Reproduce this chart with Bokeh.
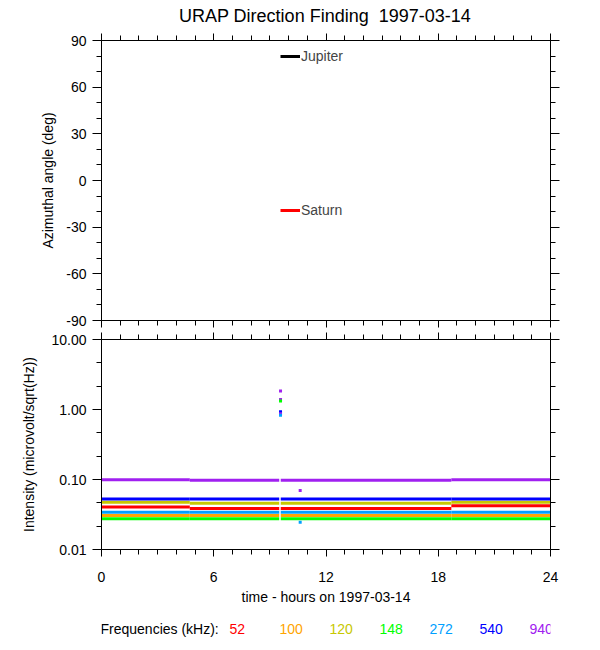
from bokeh.plotting import figure
from bokeh.models import (Range1d, LinearAxis, LogAxis, FixedTicker, PrintfTickFormatter,
                          CustomJSTickFormatter, Label, Legend, LegendItem, ColumnDataSource)
from bokeh.layouts import column
from bokeh.embed import file_html
from bokeh.resources import INLINE

FONT = "Liberation Sans"

# ---------------- data ----------------
title_text = "URAP Direction Finding\u00a0 1997-03-14"
x_title = "time - hours on 1997-03-14"
top_y_title = "Azimuthal angle (deg)"
bot_y_title = "Intensity (microvolt/sqrt(Hz))"
key_title = "Frequencies (kHz):"

hour_ticks = [0, 6, 12, 18, 24]
hour_minor = list(range(0, 25))
angle_ticks = [-90, -60, -30, 0, 30, 60, 90]
angle_minor = list(range(-90, 91, 10))
intensity_ticks = [0.01, 0.1, 1.0, 10.0]
intensity_minor = [0.0215, 0.0464, 0.215, 0.464, 2.15, 4.64]

planets = ["Jupiter", "Saturn"]

freqs_khz = [52, 100, 120, 148, 272, 540, 940]
freq_colors = {52: "#ff0000", 100: "#ffa500", 120: "#c8c800", 148: "#00ff00",
               272: "#00a0ff", 540: "#0000ff", 940: "#a020f0"}

# piecewise-constant intensity bands (hours)
seg_start_h = [0.0, 4.72, 9.58, 18.70]
seg_end_h = [4.72, 9.50, 18.70, 24.0]
level_52 = [0.0406, 0.0386, 0.0386, 0.0420]
level_100 = [0.0306, 0.0306, 0.0306, 0.0306]
level_120 = [0.0474, 0.0456, 0.0456, 0.0474]
level_148 = [0.0274, 0.0274, 0.0274, 0.0274]
level_272 = [0.0341, 0.0341, 0.0341, 0.0341]
level_540 = [0.0528, 0.0528, 0.0528, 0.0528]
level_940 = [0.0990, 0.0975, 0.0975, 0.0990]
levels = {52: level_52, 100: level_100, 120: level_120, 148: level_148,
          272: level_272, 540: level_540, 940: level_940}

# isolated points
spike_hours = [9.57, 9.57, 9.57, 9.57, 9.57, 9.57, 10.62, 10.62]
spike_freqs = [940, 940, 148, 540, 940, 272, 940, 272]
spike_values = [1.84, 1.39, 1.32, 0.93, 0.87, 0.83, 0.0695, 0.0246]

# ---------------- layout ----------------
W = 600
ML, MR = 101, 50
FW = W - ML - MR


def blank():
    return CustomJSTickFormatter(code="return ''")


def style_axis(ax, labels=True, major_out=7, minor_out=4):
    ax.axis_line_color = "black"
    ax.axis_line_width = 1
    ax.major_tick_line_color = "black"
    ax.minor_tick_line_color = "black"
    ax.major_tick_in = 0
    ax.minor_tick_in = 0
    ax.major_tick_out = major_out
    ax.minor_tick_out = minor_out
    ax.major_label_text_font = FONT
    ax.major_label_text_font_size = "14px"
    ax.major_label_text_color = "black"
    ax.axis_label_text_font = FONT
    ax.axis_label_text_font_size = "14px"
    ax.axis_label_text_font_style = "normal"
    ax.axis_label_text_color = "black"
    if not labels:
        ax.formatter = blank()
        ax.major_label_text_font_size = "1px"
        ax.major_label_standoff = 0


def strip(height):
    s = figure(width=W, height=height, x_range=Range1d(0, 1), y_range=Range1d(0, 1),
               output_backend="svg", toolbar_location=None,
               min_border_left=ML, min_border_right=MR, min_border_top=0, min_border_bottom=0,
               x_axis_location=None, y_axis_location=None)
    s.outline_line_color = None
    s.xgrid.visible = False
    s.ygrid.visible = False
    s.background_fill_color = "white"
    s.border_fill_color = "white"
    return s


# title strip
HH = 30
head = strip(HH)
head.add_layout(Label(x=FW / 2 - 1, y=HH / 2, x_units="screen", y_units="screen", text=title_text,
                      text_align="center", text_baseline="middle", text_font=FONT,
                      text_font_size="18px", text_color="black"))

# top panel
TH = 300
top = figure(width=W, height=TH, x_range=Range1d(0, 24), y_range=Range1d(-90, 90),
             output_backend="svg", toolbar_location=None,
             min_border_left=ML, min_border_right=MR, min_border_top=10, min_border_bottom=10,
             x_axis_location=None, y_axis_location=None)
top.outline_line_color = None
top.xgrid.visible = False
top.ygrid.visible = False
top.background_fill_color = "white"
top.border_fill_color = "white"

ax = LinearAxis(ticker=FixedTicker(ticks=angle_ticks, minor_ticks=angle_minor),
                formatter=PrintfTickFormatter(format="%d"), axis_label=top_y_title)
style_axis(ax, True, 9, 5)
ax.major_label_standoff = 6
ax.axis_label_standoff = 7
top.add_layout(ax, "left")
ax = LinearAxis(ticker=FixedTicker(ticks=angle_ticks, minor_ticks=angle_minor))
style_axis(ax, False, 9, 5)
top.add_layout(ax, "right")
for side in ("above", "below"):
    ax = LinearAxis(ticker=FixedTicker(ticks=hour_ticks, minor_ticks=hour_minor))
    style_axis(ax, False, 7, 5)
    top.add_layout(ax, side)

planet_colors = {"Jupiter": "black", "Saturn": "#ff0000"}
planet_pos = {"Jupiter": (179, 256), "Saturn": (179, 102)}
for name in planets:
    r = top.line(x=[0], y=[0], line_color=planet_colors[name], line_width=3)
    leg = Legend(items=[LegendItem(label=name, renderers=[r])], location=planet_pos[name],
                 padding=0, margin=0, border_line_color=None, background_fill_alpha=0,
                 glyph_width=20, glyph_height=16, label_height=16, label_standoff=1,
                 label_text_font=FONT, label_text_font_size="14px")
    top.add_layout(leg)

# bottom panel
BH = 283
bot = figure(width=W, height=BH, x_range=Range1d(0, 24), y_range=Range1d(0.01, 10),
             y_axis_type="log", output_backend="svg", toolbar_location=None,
             min_border_left=ML, min_border_right=MR, min_border_top=9, min_border_bottom=64,
             x_axis_location=None, y_axis_location=None)
bot.outline_line_color = None
bot.xgrid.visible = False
bot.ygrid.visible = False
bot.background_fill_color = "white"
bot.border_fill_color = "white"

ax = LogAxis(ticker=FixedTicker(ticks=intensity_ticks, minor_ticks=intensity_minor),
             formatter=PrintfTickFormatter(format="%.2f"), axis_label=bot_y_title)
style_axis(ax, True, 9, 5)
ax.major_label_standoff = 6
ax.axis_label_standoff = 11
bot.add_layout(ax, "left")
ax = LogAxis(ticker=FixedTicker(ticks=intensity_ticks, minor_ticks=intensity_minor))
style_axis(ax, False, 9, 5)
bot.add_layout(ax, "right")
ax = LinearAxis(ticker=FixedTicker(ticks=hour_ticks, minor_ticks=hour_minor))
style_axis(ax, False, 7, 5)
bot.add_layout(ax, "above")
ax = LinearAxis(ticker=FixedTicker(ticks=hour_ticks, minor_ticks=hour_minor),
                formatter=PrintfTickFormatter(format="%d"), axis_label=x_title)
style_axis(ax, True, 7, 5)
ax.major_label_standoff = 15
ax.axis_label_standoff = 4
bot.add_layout(ax, "below")

for f in freqs_khz:
    src = ColumnDataSource(dict(x0=seg_start_h, x1=seg_end_h, y=levels[f]))
    bot.segment(x0="x0", x1="x1", y0="y", y1="y", source=src,
                line_color=freq_colors[f], line_width=3, line_cap="butt")

bot.scatter(x=spike_hours, y=spike_values, marker="square", size=3,
            color=[freq_colors[f] for f in spike_freqs], line_width=0)

# frequency key strip (its frame is aligned with the panels above)
KH = 30
key = strip(KH)
key.add_layout(Label(x=-1, y=KH / 2, x_units="screen", y_units="screen", text=key_title,
                     text_align="left", text_baseline="middle", text_font=FONT,
                     text_font_size="14px", text_color="black"))
for i, f in enumerate(freqs_khz):
    key.add_layout(Label(x=128 + 50 * i, y=KH / 2, x_units="screen", y_units="screen",
                         text=str(f), text_align="left", text_baseline="middle", text_font=FONT,
                         text_font_size="14px", text_color=freq_colors[f]))

layout = column(head, top, bot, key)
open("out.html", "w").write(file_html(layout, INLINE))
